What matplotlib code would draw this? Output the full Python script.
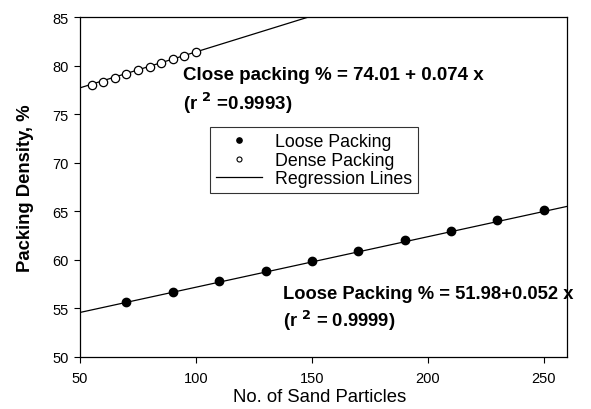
import matplotlib
matplotlib.use("Agg")
import matplotlib.pyplot as plt
from matplotlib.lines import Line2D

plt.rcParams["font.family"] = ["Liberation Sans", "DejaVu Sans"]

# ── data ──────────────────────────────────────────────────────────────────
dense_x = [55, 60, 65, 70, 75, 80, 85, 90, 95, 100]
dense_y = [78.0, 78.3, 78.7, 79.1, 79.5, 79.9, 80.3, 80.7, 81.0, 81.4]

loose_x = [70, 90, 110, 130, 150, 170, 190, 210, 230, 250]
loose_y = [55.7, 56.7, 57.8, 58.8, 59.9, 60.9, 62.0, 63.0, 64.1, 65.1]

# regression coefficients shown on the chart (intercept, slope)
dense_fit = (74.01, 0.074)
loose_fit = (51.98, 0.052)

x_ticks = [50, 100, 150, 200, 250]
y_ticks = [50, 55, 60, 65, 70, 75, 80, 85]

# ── plot ──────────────────────────────────────────────────────────────────
fig = plt.figure(figsize=(5.91, 4.10), dpi=100)
ax = fig.add_axes([0.1354, 0.127, 0.824, 0.829])

line_x = [50, 260]
ax.plot(line_x, [dense_fit[0] + dense_fit[1] * v for v in line_x],
        color="black", lw=0.9, zorder=1)
ax.plot(line_x, [loose_fit[0] + loose_fit[1] * v for v in line_x],
        color="black", lw=0.9, zorder=1)

ax.plot(dense_x, dense_y, "o", ms=6.0, mfc="white", mec="black", mew=0.9, zorder=2)
ax.plot(loose_x, loose_y, "o", ms=6.0, mfc="black", mec="black", zorder=2)

ax.set_xlim(50, 260)
ax.set_ylim(50, 85)
ax.set_xticks(x_ticks)
ax.set_yticks(y_ticks)
ax.tick_params(direction="out", length=4, width=0.8, labelsize=10.5)
ax.tick_params(axis="x", pad=6)
ax.tick_params(axis="y", pad=4)
for s in ax.spines.values():
    s.set_linewidth(0.9)

ax.set_xlabel("No. of Sand Particles", fontsize=13.3, va="center")
ax.xaxis.set_label_coords(0.492, -0.115)
ax.set_ylabel("Packing Density, %", fontsize=13.3, fontweight="bold",
              va="center", ha="center")
ax.yaxis.set_label_coords(-0.111, 0.5)

ax.text(94.4, 79.1, "Close packing % = 74.01 + 0.074 x",
        fontsize=13.5, fontweight="bold", va="center")
ax.text(94.4, 76.2, r"(r $^{\mathbf{2}}$ =0.9993)",
        fontsize=13.5, fontweight="bold", va="center")
ax.text(137.5, 56.5, "Loose Packing % = 51.98+0.052 x",
        fontsize=13.2, fontweight="bold", va="center")
ax.text(137.5, 53.8, r"(r $^{\mathbf{2}}$ = 0.9999)",
        fontsize=13.2, fontweight="bold", va="center")

handles = [
    Line2D([], [], ls="none", marker="o", ms=3.8, mfc="black", mec="black"),
    Line2D([], [], ls="none", marker="o", ms=3.6, mfc="white", mec="black", mew=0.8),
    Line2D([], [], color="black", lw=0.9),
]
leg = ax.legend(handles, ["Loose Packing", "Dense Packing", "Regression Lines"],
                loc="upper left", bbox_to_anchor=(0.267, 0.676),
                fontsize=12.8, frameon=True, fancybox=False, edgecolor="black",
                handlelength=2.6, handletextpad=0.7, labelspacing=0.08,
                borderpad=0.35, borderaxespad=0)
leg.get_frame().set_linewidth(0.8)

fig.savefig("out.png", dpi=100)
